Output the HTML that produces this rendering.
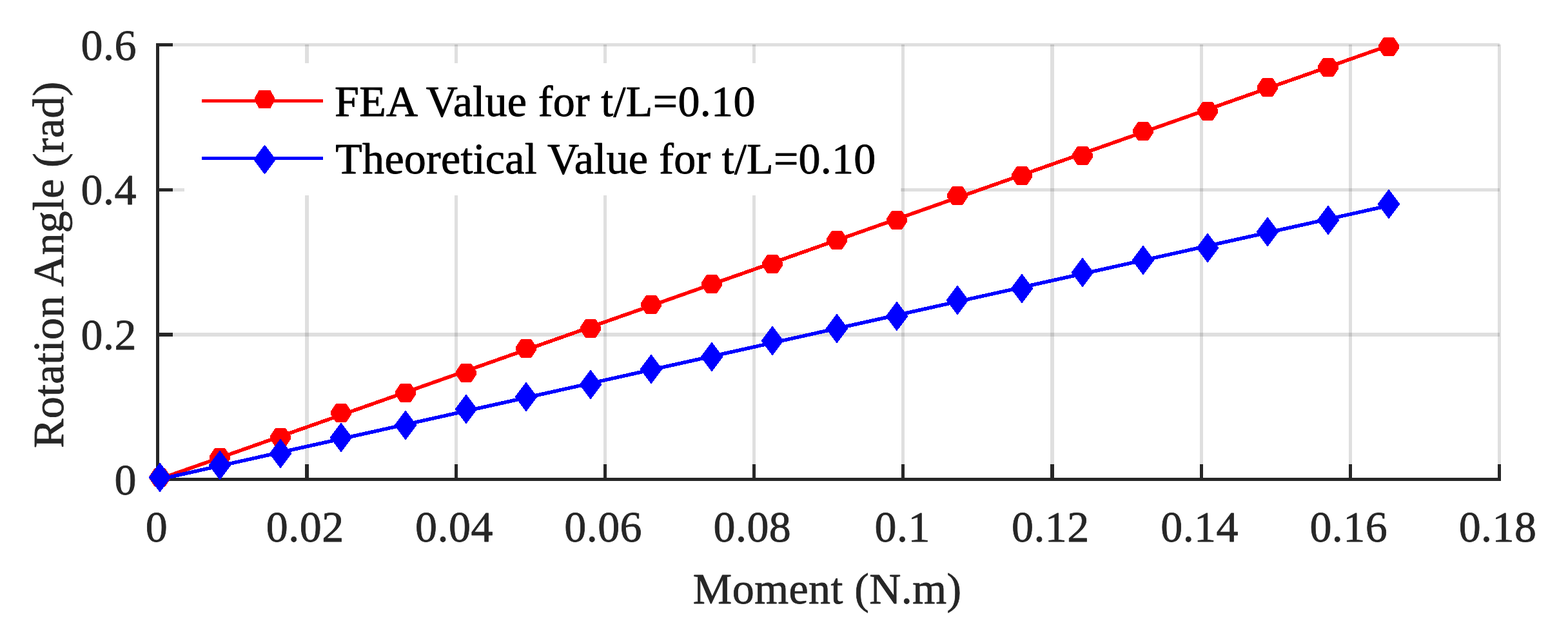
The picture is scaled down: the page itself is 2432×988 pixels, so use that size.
<!DOCTYPE html>
<html lang="en"><head><meta charset="utf-8"><title>Rotation Angle vs Moment</title>
<style>
html,body{margin:0;padding:0;background:#fff;}
body{width:2432px;height:988px;overflow:hidden;}
svg{display:block;}
</style></head><body>
<svg width="2432" height="988" viewBox="0 0 2432 988" role="img" aria-label="Rotation angle versus moment">
<rect width="2432" height="988" fill="#fff"/>
<g shape-rendering="crispEdges">
<rect x="473" y="69" width="6" height="672" fill="#dfdfdf"/>
<rect x="705" y="69" width="5" height="672" fill="#dfdfdf"/>
<rect x="936" y="69" width="5" height="672" fill="#dfdfdf"/>
<rect x="1167" y="69" width="5" height="672" fill="#dfdfdf"/>
<rect x="1398" y="69" width="5" height="672" fill="#dfdfdf"/>
<rect x="1629" y="69" width="6" height="672" fill="#dfdfdf"/>
<rect x="1861" y="69" width="5" height="672" fill="#dfdfdf"/>
<rect x="2092" y="69" width="5" height="672" fill="#dfdfdf"/>
<rect x="2323" y="69" width="5" height="672" fill="#dfdfdf"/>
<rect x="247" y="516" width="2079" height="6" fill="#dfdfdf"/>
<rect x="247" y="292" width="2079" height="5" fill="#dfdfdf"/>
<rect x="247" y="67" width="2079" height="5" fill="#dfdfdf"/>
<rect x="473" y="516" width="6" height="6" fill="#c3c3c3"/>
<rect x="473" y="292" width="6" height="5" fill="#c3c3c3"/>
<rect x="473" y="69" width="6" height="3" fill="#c3c3c3"/>
<rect x="705" y="516" width="5" height="6" fill="#c3c3c3"/>
<rect x="705" y="292" width="5" height="5" fill="#c3c3c3"/>
<rect x="705" y="69" width="5" height="3" fill="#c3c3c3"/>
<rect x="936" y="516" width="5" height="6" fill="#c3c3c3"/>
<rect x="936" y="292" width="5" height="5" fill="#c3c3c3"/>
<rect x="936" y="69" width="5" height="3" fill="#c3c3c3"/>
<rect x="1167" y="516" width="5" height="6" fill="#c3c3c3"/>
<rect x="1167" y="292" width="5" height="5" fill="#c3c3c3"/>
<rect x="1167" y="69" width="5" height="3" fill="#c3c3c3"/>
<rect x="1398" y="516" width="5" height="6" fill="#c3c3c3"/>
<rect x="1398" y="292" width="5" height="5" fill="#c3c3c3"/>
<rect x="1398" y="69" width="5" height="3" fill="#c3c3c3"/>
<rect x="1629" y="516" width="6" height="6" fill="#c3c3c3"/>
<rect x="1629" y="292" width="6" height="5" fill="#c3c3c3"/>
<rect x="1629" y="69" width="6" height="3" fill="#c3c3c3"/>
<rect x="1861" y="516" width="5" height="6" fill="#c3c3c3"/>
<rect x="1861" y="292" width="5" height="5" fill="#c3c3c3"/>
<rect x="1861" y="69" width="5" height="3" fill="#c3c3c3"/>
<rect x="2092" y="516" width="5" height="6" fill="#c3c3c3"/>
<rect x="2092" y="292" width="5" height="5" fill="#c3c3c3"/>
<rect x="2092" y="69" width="5" height="3" fill="#c3c3c3"/>
<rect x="2323" y="516" width="3" height="6" fill="#c3c3c3"/>
<rect x="2323" y="292" width="3" height="5" fill="#c3c3c3"/>
<rect x="2323" y="69" width="3" height="3" fill="#c3c3c3"/>
<rect x="242" y="67" width="5" height="679" fill="#262626"/>
<rect x="242" y="741" width="2086" height="5" fill="#262626"/>
<rect x="473" y="720" width="6" height="26" fill="#262626"/>
<rect x="705" y="720" width="5" height="26" fill="#262626"/>
<rect x="936" y="720" width="5" height="26" fill="#262626"/>
<rect x="1167" y="720" width="5" height="26" fill="#262626"/>
<rect x="1398" y="720" width="5" height="26" fill="#262626"/>
<rect x="1629" y="720" width="6" height="26" fill="#262626"/>
<rect x="1861" y="720" width="5" height="26" fill="#262626"/>
<rect x="2092" y="720" width="5" height="26" fill="#262626"/>
<rect x="2323" y="720" width="5" height="26" fill="#262626"/>
<rect x="242" y="516" width="26" height="6" fill="#262626"/>
<rect x="242" y="292" width="26" height="5" fill="#262626"/>
<rect x="242" y="67" width="26" height="5" fill="#262626"/>
</g>
<g shape-rendering="crispEdges">
<polyline points="244.50,744.00 340.05,710.31 435.59,676.62 531.14,642.93 626.69,609.24 722.24,575.55 817.78,541.86 913.33,508.17 1008.88,474.48 1104.42,440.79 1199.97,407.10 1295.52,373.41 1391.06,339.72 1486.61,306.03 1582.16,272.34 1677.70,238.65 1773.25,204.96 1868.80,171.27 1964.35,137.58 2059.89,103.89 2155.44,70.20" fill="none" stroke="#ff0000" stroke-width="5.6" stroke-linejoin="round"/>
<polygon points="232.00,738.20 240.10,726.00 255.90,726.00 264.00,738.20 264.00,742.80 255.90,755.00 240.10,755.00 232.00,742.80" fill="#ff0000"/>
<polygon points="325.00,707.20 333.10,695.00 348.90,695.00 357.00,707.20 357.00,711.80 348.90,724.00 333.10,724.00 325.00,711.80" fill="#ff0000"/>
<polygon points="419.00,676.20 427.10,664.00 442.90,664.00 451.00,676.20 451.00,680.80 442.90,693.00 427.10,693.00 419.00,680.80" fill="#ff0000"/>
<polygon points="513.00,638.20 521.10,626.00 536.90,626.00 545.00,638.20 545.00,642.80 536.90,655.00 521.10,655.00 513.00,642.80" fill="#ff0000"/>
<polygon points="613.00,607.20 621.10,595.00 636.90,595.00 645.00,607.20 645.00,611.80 636.90,624.00 621.10,624.00 613.00,611.80" fill="#ff0000"/>
<polygon points="707.00,576.20 715.10,564.00 730.90,564.00 739.00,576.20 739.00,580.80 730.90,593.00 715.10,593.00 707.00,580.80" fill="#ff0000"/>
<polygon points="800.00,538.20 808.10,526.00 823.90,526.00 832.00,538.20 832.00,542.80 823.90,555.00 808.10,555.00 800.00,542.80" fill="#ff0000"/>
<polygon points="900.00,507.20 908.10,495.00 923.90,495.00 932.00,507.20 932.00,511.80 923.90,524.00 908.10,524.00 900.00,511.80" fill="#ff0000"/>
<polygon points="994.00,470.20 1002.10,458.00 1017.90,458.00 1026.00,470.20 1026.00,474.80 1017.90,487.00 1002.10,487.00 994.00,474.80" fill="#ff0000"/>
<polygon points="1088.00,438.20 1096.10,426.00 1111.90,426.00 1120.00,438.20 1120.00,442.80 1111.90,455.00 1096.10,455.00 1088.00,442.80" fill="#ff0000"/>
<polygon points="1182.00,407.20 1190.10,395.00 1205.90,395.00 1214.00,407.20 1214.00,411.80 1205.90,424.00 1190.10,424.00 1182.00,411.80" fill="#ff0000"/>
<polygon points="1282.00,370.20 1290.10,358.00 1305.90,358.00 1314.00,370.20 1314.00,374.80 1305.90,387.00 1290.10,387.00 1282.00,374.80" fill="#ff0000"/>
<polygon points="1375.00,339.20 1383.10,327.00 1398.90,327.00 1407.00,339.20 1407.00,343.80 1398.90,356.00 1383.10,356.00 1375.00,343.80" fill="#ff0000"/>
<polygon points="1469.00,301.20 1477.10,289.00 1492.90,289.00 1501.00,301.20 1501.00,305.80 1492.90,318.00 1477.10,318.00 1469.00,305.80" fill="#ff0000"/>
<polygon points="1569.00,270.20 1577.10,258.00 1592.90,258.00 1601.00,270.20 1601.00,274.80 1592.90,287.00 1577.10,287.00 1569.00,274.80" fill="#ff0000"/>
<polygon points="1663.00,239.20 1671.10,227.00 1686.90,227.00 1695.00,239.20 1695.00,243.80 1686.90,256.00 1671.10,256.00 1663.00,243.80" fill="#ff0000"/>
<polygon points="1757.00,201.20 1765.10,189.00 1780.90,189.00 1789.00,201.20 1789.00,205.80 1780.90,218.00 1765.10,218.00 1757.00,205.80" fill="#ff0000"/>
<polygon points="1857.00,170.20 1865.10,158.00 1880.90,158.00 1889.00,170.20 1889.00,174.80 1880.90,187.00 1865.10,187.00 1857.00,174.80" fill="#ff0000"/>
<polygon points="1950.00,133.20 1958.10,121.00 1973.90,121.00 1982.00,133.20 1982.00,137.80 1973.90,150.00 1958.10,150.00 1950.00,137.80" fill="#ff0000"/>
<polygon points="2044.00,102.20 2052.10,90.00 2067.90,90.00 2076.00,102.20 2076.00,106.80 2067.90,119.00 2052.10,119.00 2044.00,106.80" fill="#ff0000"/>
<polygon points="2138.00,70.20 2146.10,58.00 2161.90,58.00 2170.00,70.20 2170.00,74.80 2161.90,87.00 2146.10,87.00 2138.00,74.80" fill="#ff0000"/>
<polyline points="244.50,744.00 340.05,722.73 435.59,701.46 531.14,680.19 626.69,658.92 722.24,637.65 817.78,616.38 913.33,595.11 1008.88,573.84 1104.42,552.57 1199.97,531.30 1295.52,510.03 1391.06,488.76 1486.61,467.49 1582.16,446.22 1677.70,424.95 1773.25,403.68 1868.80,382.41 1964.35,361.14 2059.89,339.87 2155.44,318.60" fill="none" stroke="#0000ff" stroke-width="5.6" stroke-linejoin="round"/>
<polygon points="230.60,740.50 248.00,717.50 265.40,740.50 248.00,763.50" fill="#0000ff"/>
<polygon points="323.60,721.50 341.00,698.50 358.40,721.50 341.00,744.50" fill="#0000ff"/>
<polygon points="417.60,703.50 435.00,680.50 452.40,703.50 435.00,726.50" fill="#0000ff"/>
<polygon points="511.60,678.50 529.00,655.50 546.40,678.50 529.00,701.50" fill="#0000ff"/>
<polygon points="611.60,659.50 629.00,636.50 646.40,659.50 629.00,682.50" fill="#0000ff"/>
<polygon points="705.60,634.50 723.00,611.50 740.40,634.50 723.00,657.50" fill="#0000ff"/>
<polygon points="798.60,615.50 816.00,592.50 833.40,615.50 816.00,638.50" fill="#0000ff"/>
<polygon points="898.60,596.50 916.00,573.50 933.40,596.50 916.00,619.50" fill="#0000ff"/>
<polygon points="992.60,572.50 1010.00,549.50 1027.40,572.50 1010.00,595.50" fill="#0000ff"/>
<polygon points="1086.60,553.50 1104.00,530.50 1121.40,553.50 1104.00,576.50" fill="#0000ff"/>
<polygon points="1180.60,528.50 1198.00,505.50 1215.40,528.50 1198.00,551.50" fill="#0000ff"/>
<polygon points="1280.60,509.50 1298.00,486.50 1315.40,509.50 1298.00,532.50" fill="#0000ff"/>
<polygon points="1373.60,490.50 1391.00,467.50 1408.40,490.50 1391.00,513.50" fill="#0000ff"/>
<polygon points="1467.60,465.50 1485.00,442.50 1502.40,465.50 1485.00,488.50" fill="#0000ff"/>
<polygon points="1567.60,447.50 1585.00,424.50 1602.40,447.50 1585.00,470.50" fill="#0000ff"/>
<polygon points="1661.60,422.50 1679.00,399.50 1696.40,422.50 1679.00,445.50" fill="#0000ff"/>
<polygon points="1755.60,403.50 1773.00,380.50 1790.40,403.50 1773.00,426.50" fill="#0000ff"/>
<polygon points="1855.60,384.50 1873.00,361.50 1890.40,384.50 1873.00,407.50" fill="#0000ff"/>
<polygon points="1948.60,359.50 1966.00,336.50 1983.40,359.50 1966.00,382.50" fill="#0000ff"/>
<polygon points="2042.60,341.50 2060.00,318.50 2077.40,341.50 2060.00,364.50" fill="#0000ff"/>
<polygon points="2136.60,316.50 2154.00,293.50 2171.40,316.50 2154.00,339.50" fill="#0000ff"/>
<rect x="286" y="98" width="1111" height="205" fill="#ffffff"/>
<rect x="313" y="154" width="188" height="5" fill="#ff0000"/>
<polygon points="395.00,151.50 401.75,140.00 419.25,140.00 426.00,151.50 426.00,156.50 419.25,168.00 401.75,168.00 395.00,156.50" fill="#ff0000"/>
<rect x="313" y="243" width="188" height="5" fill="#0000ff"/>
<polygon points="393.10,247.50 410.50,224.50 427.90,247.50 410.50,270.50" fill="#0000ff"/>
</g>
<g style="font-family:'Liberation Serif','Times New Roman',serif" fill="#262626" stroke="#262626" stroke-width="0.8" stroke-linejoin="round">
<text x="177.50" y="766.50" font-size="68">0</text>
<text x="125.56" y="541.83" font-size="68" textLength="85.94" lengthAdjust="spacing">0.2</text>
<text x="125.56" y="317.17" font-size="68" textLength="85.94" lengthAdjust="spacing">0.4</text>
<text x="125.56" y="92.50" font-size="68" textLength="85.94" lengthAdjust="spacing">0.6</text>
<text x="225.80" y="840.00" font-size="68">0</text>
<text x="412.87" y="840.00" font-size="68" textLength="120.31" lengthAdjust="spacing">0.02</text>
<text x="644.09" y="840.00" font-size="68" textLength="120.31" lengthAdjust="spacing">0.04</text>
<text x="875.31" y="840.00" font-size="68" textLength="120.31" lengthAdjust="spacing">0.06</text>
<text x="1106.53" y="840.00" font-size="68" textLength="120.31" lengthAdjust="spacing">0.08</text>
<text x="1356.44" y="840.00" font-size="68" textLength="85.94" lengthAdjust="spacing">0.1</text>
<text x="1568.98" y="840.00" font-size="68" textLength="120.31" lengthAdjust="spacing">0.12</text>
<text x="1800.20" y="840.00" font-size="68" textLength="120.31" lengthAdjust="spacing">0.14</text>
<text x="2031.42" y="840.00" font-size="68" textLength="120.31" lengthAdjust="spacing">0.16</text>
<text x="2262.64" y="840.00" font-size="68" textLength="120.31" lengthAdjust="spacing">0.18</text>
<text x="1074.87" y="936.00" font-size="68" textLength="416.27" lengthAdjust="spacing">Moment (N.m)</text>
<text transform="translate(98.00,695.00) rotate(-90)" x="0.00" y="0" font-size="68" textLength="568.50" lengthAdjust="spacing">Rotation Angle (rad)</text>
</g>
<g style="font-family:'Liberation Serif','Times New Roman',serif" fill="#000" stroke="#000" stroke-width="0.9" stroke-linejoin="round">
<text x="519.00" y="179.50" font-size="68" textLength="652.39" lengthAdjust="spacing">FEA Value for t/L=0.10</text>
<text x="520.30" y="269.00" font-size="68" textLength="838.01" lengthAdjust="spacing">Theoretical Value for t/L=0.10</text>
</g>
</svg>
</body></html>
